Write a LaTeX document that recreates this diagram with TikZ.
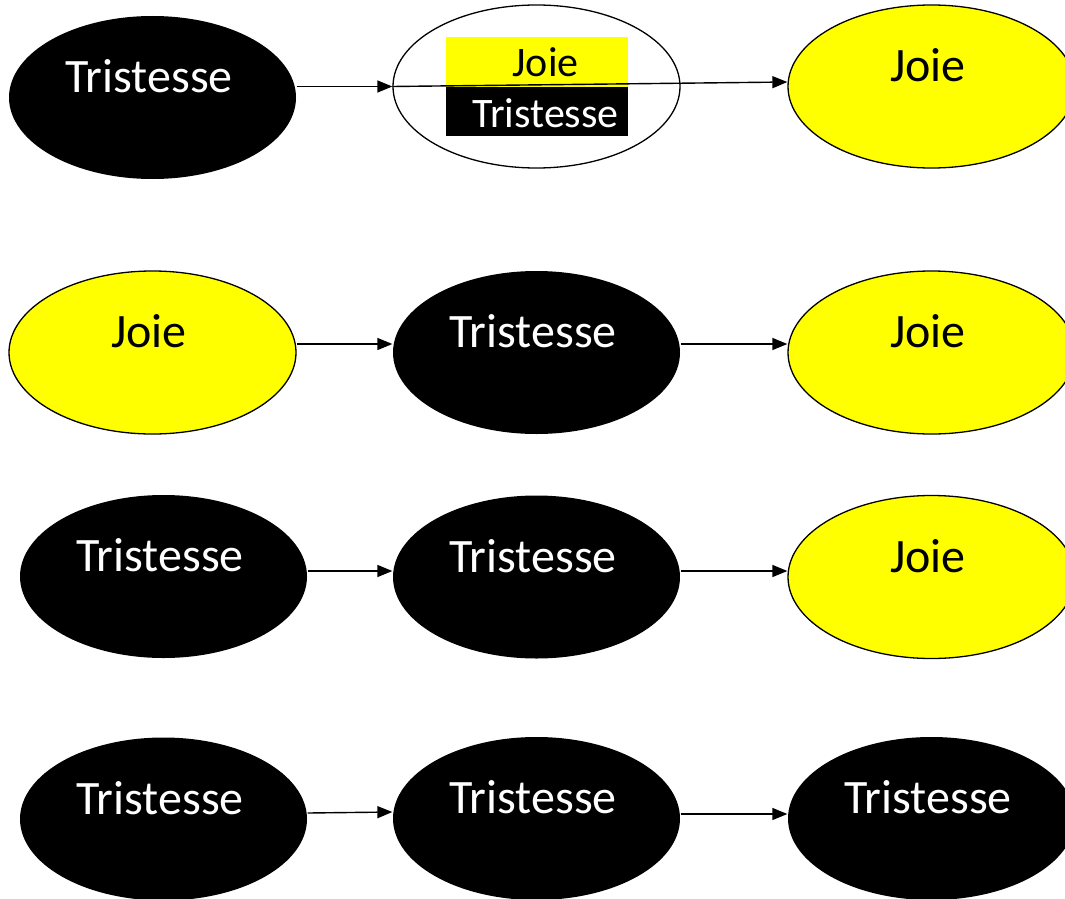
\documentclass[tikz,border=0pt]{standalone}
\usepackage{fontspec}
\setmainfont{Carlito}
\usetikzlibrary{shapes.geometric,arrows.meta,calc}
\newcommand{\bigtxt}{\fontsize{48}{52}\selectfont}
\newcommand{\midtxt}{\fontsize{42}{46}\selectfont}
\definecolor{joie}{RGB}{255,255,0}
\tikzset{
  ell/.style={ellipse, minimum width=287pt, minimum height=163pt, inner sep=0pt,
    text height=30pt, text depth=39.5pt, font=\bigtxt, line width=1.3pt,
    execute at end node={\kern7pt}},
  triste/.style={ell, fill=black, text=white},
  joyeux/.style={ell, fill=joie, draw=black, text=black},
  mixte/.style={ell, fill=white, draw=black},
  boite/.style={rectangle, minimum width=182pt, minimum height=49.5pt, inner sep=0pt},
  arr/.style={-{Triangle[length=15pt,width=12pt]}, line width=1.4pt, black},
}
\begin{document}
\begin{tikzpicture}[x=1pt, y=-1pt]
\useasboundingbox (0,0) rectangle (1065,899);
\clip (0,0) rectangle (1065,899);
% row 1
\node[triste] (e11) at (152.5,97.5) {Tristesse};
\node[mixte]  (e12) at (536.5,86.5) {};
\node[joyeux] (e13) at (931.5,86.5) {Joie};
\node[boite, fill=joie]  (bj) at (537,62) {};
\node[boite, fill=black] (bt) at (537,111.5) {};
\node[anchor=base, font=\midtxt, inner sep=0pt] (tj) at (545.5,76) {Joie};
\node[anchor=base, font=\midtxt, text=white, inner sep=0pt] (tt) at (545.5,127) {Tristesse};
% row 2
\node[joyeux] (e21) at (152.5,352.5) {Joie};
\node[triste] (e22) at (536.5,352.5) {Tristesse};
\node[joyeux] (e23) at (931.5,352.5) {Joie};
% row 3
\node[triste] (e31) at (163.5,576.5) {Tristesse};
\node[triste] (e32) at (536.5,577) {Tristesse};
\node[joyeux] (e33) at (931.5,577) {Joie};
% row 4
\node[triste] (e41) at (163.5,819) {Tristesse};
\node[triste] (e42) at (536.5,818.5) {Tristesse};
\node[triste] (e43) at (931.5,818.5) {Tristesse};
% connectors
\draw[arr] (e11.east |- e12.west) -- (e12.west);
\draw[arr] (e12.west) -- ([yshift=4.5pt]e13.west);
\draw[arr] ([yshift=8.5pt]e21.east) -- ([yshift=8.5pt]e22.west);
\draw[arr] ([yshift=8.5pt]e22.east) -- ([yshift=8.5pt]e23.west);
\draw[arr] ([yshift=5.5pt]e31.east) -- ([yshift=6pt]e32.west);
\draw[arr] ([yshift=6pt]e32.east) -- ([yshift=6pt]e33.west);
\draw[arr] ([yshift=6pt]e41.east) -- ([yshift=6.5pt]e42.west);
\draw[arr] ([yshift=4.5pt]e42.east) -- ([yshift=4.5pt]e43.west);
\end{tikzpicture}
\end{document}
